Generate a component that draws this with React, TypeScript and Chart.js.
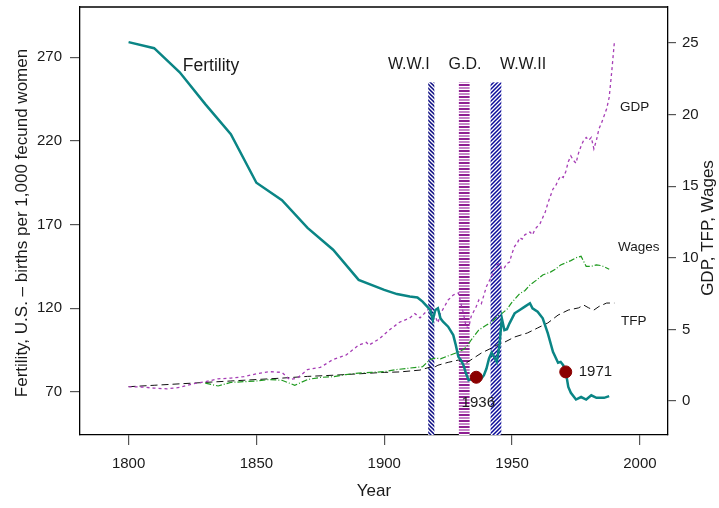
import React, { useEffect, useRef } from "react";
import { Chart, registerables } from "chart.js";

Chart.register(...registerables);

// ---------- data ----------
const fertYears = [1800, 1810, 1820, 1830, 1840, 1850, 1860, 1870, 1880, 1890, 1900, 1905, 1910, 1913, 1915, 1918, 1919, 1920, 1921, 1922, 1923, 1925, 1927, 1928, 1929, 1930, 1931, 1932, 1933, 1934, 1936, 1938, 1939, 1940, 1941, 1942, 1943, 1944, 1945, 1946, 1947, 1948, 1949, 1951, 1953, 1955, 1957, 1958, 1960, 1962, 1964, 1966, 1968, 1969, 1970, 1971, 1972, 1973, 1975, 1977, 1979, 1981, 1983, 1986, 1988];
const fertValues = [279, 275.4, 261, 242, 224, 195, 184.6, 168, 155, 137, 131, 128.5, 127, 126.5, 124, 119, 113, 119, 120, 114, 112, 109, 104, 98, 91, 89, 86, 81, 77, 77.5, 77.8, 78, 80, 84, 90, 93.5, 91, 88, 97, 114, 107, 107.5, 111, 117, 119, 121, 123, 120, 118, 114, 105, 94, 87.5, 88, 86, 82, 73, 69.5, 65.5, 67, 65.5, 68, 66.5, 66.5, 67.5];

const gdpYears = [1800, 1805, 1810, 1815, 1820, 1825, 1830, 1835, 1840, 1845, 1850, 1855, 1860, 1863, 1866, 1870, 1875, 1880, 1885, 1890, 1893, 1894, 1898, 1902, 1906, 1910, 1912, 1914, 1917, 1918, 1920, 1921, 1922, 1925, 1927, 1929, 1930, 1931, 1932, 1933, 1934, 1936, 1937, 1938, 1939, 1940, 1942, 1944, 1945, 1946, 1947, 1948, 1949, 1950, 1951, 1952, 1953, 1954, 1955, 1956, 1957, 1958, 1959, 1960, 1961, 1962, 1963, 1964, 1965, 1966, 1967, 1968, 1969, 1970, 1971, 1972, 1973, 1974, 1975, 1976, 1977, 1978, 1979, 1980, 1981, 1982, 1983, 1984, 1985, 1986, 1987, 1988, 1989, 1990];
const gdpValues = [1.0, 0.98, 0.9, 0.85, 0.95, 1.2, 1.35, 1.55, 1.6, 1.7, 1.9, 2.05, 2.0, 1.5, 1.6, 2.2, 2.35, 2.9, 3.2, 3.9, 4.1, 3.9, 4.33, 4.96, 5.5, 5.8, 6.1, 5.8, 6.35, 6.6, 5.9, 5.45, 6.1, 7.05, 7.4, 7.54, 6.8, 6.1, 5.2, 5.1, 5.9, 6.6, 7.05, 6.8, 7.4, 8.0, 8.7, 9.5, 9.6, 9.2, 9.3, 9.6, 9.7, 10.3, 10.8, 11.0, 11.4, 11.3, 11.6, 11.7, 11.8, 11.6, 12.0, 12.2, 12.4, 12.8, 13.2, 13.8, 14.3, 14.8, 15.0, 15.4, 15.7, 15.6, 16.0, 16.7, 17.1, 16.8, 16.6, 17.3, 17.8, 18.2, 18.4, 18.2, 18.4, 17.6, 18.2, 19.0, 19.4, 19.9, 20.4, 21.2, 23.0, 25.0];

const wageYears = [1830, 1835, 1840, 1845, 1850, 1855, 1860, 1865, 1870, 1875, 1880, 1885, 1890, 1895, 1900, 1905, 1910, 1915, 1918, 1920, 1922, 1925, 1928, 1931, 1932, 1934, 1937, 1940, 1942, 1944, 1946, 1948, 1950, 1953, 1955, 1957, 1960, 1962, 1965, 1967, 1969, 1971, 1973, 1975, 1977, 1979, 1981, 1983, 1985, 1988];
const wageValues = [1.25, 1.05, 1.3, 1.35, 1.4, 1.5, 1.45, 1.1, 1.5, 1.65, 1.7, 1.85, 1.95, 2.0, 2.05, 2.2, 2.3, 2.4, 2.9, 3.0, 2.95, 3.15, 3.35, 3.6, 3.75, 4.26, 4.96, 5.3, 5.5, 5.87, 6.1, 6.4, 6.9, 7.5, 7.7, 8.1, 8.5, 8.8, 9.0, 9.2, 9.5, 9.65, 9.8, 10.0, 10.1, 9.4, 9.4, 9.5, 9.45, 9.2];

const tfpYears = [1800, 1810, 1820, 1830, 1840, 1850, 1860, 1870, 1880, 1890, 1900, 1906, 1914, 1918, 1919, 1921, 1925, 1929, 1932, 1935, 1938, 1942, 1944, 1947, 1951, 1956, 1960, 1964, 1968, 1972, 1976, 1978, 1980, 1982, 1984, 1987, 1990];
const tfpValues = [1.0, 1.1, 1.2, 1.3, 1.4, 1.5, 1.6, 1.72, 1.8, 1.9, 2.0, 2.03, 2.16, 2.37, 2.3, 2.5, 2.7, 2.86, 2.65, 3.0, 3.35, 3.7, 3.9, 4.1, 4.47, 4.75, 5.1, 5.45, 6.0, 6.35, 6.5, 6.7, 6.5, 6.35, 6.6, 6.84, 6.84];

const markYears = [1936, 1971];
const markValues = [78.8, 82];
const markLabels = ["1936", "1971"];

const xTicks = [1800, 1850, 1900, 1950, 2000];
const leftTicks = [70, 120, 170, 220, 270];
const rightTicks = [0, 5, 10, 15, 20, 25];

const bandNames = ["W.W.I", "G.D.", "W.W.II"];
const bandStart = [1917.2, 1929.2, 1941.6];
const bandEnd = [1919.6, 1933.4, 1945.8];
const bandTop = 255;

// ---------- styling ----------
const FONT = '"Liberation Sans", Arial, Helvetica, sans-serif';
const TEXT = "#1a1a1a";

function pts(xs: number[], ys: number[]) {
  return xs.map((x, i) => ({ x, y: ys[i] }));
}

function makePattern(ctx: CanvasRenderingContext2D, kind: number): CanvasPattern | string {
  const c = document.createElement("canvas");
  const g = c.getContext("2d")!;
  if (kind === 1) {
    c.width = 4;
    c.height = 6;
    g.fillStyle = "#ffffff";
    g.fillRect(0, 0, 4, 6);
    g.fillStyle = "#8e1f92";
    g.fillRect(0, 0, 4, 2);
    g.fillStyle = "#c585c8";
    g.fillRect(0, 3, 4, 2);
  } else {
    c.width = 4;
    c.height = 4;
    g.fillStyle = "#ffffff";
    g.fillRect(0, 0, 4, 4);
    g.strokeStyle = kind === 0 ? "#0a0a80" : "#0c0c9a";
    g.lineWidth = 1.5;
    g.beginPath();
    if (kind === 0) {
      g.moveTo(-1, -1); g.lineTo(5, 5);
      g.moveTo(-1, 3); g.lineTo(1, 5);
      g.moveTo(3, -1); g.lineTo(5, 1);
    } else {
      g.moveTo(-1, 5); g.lineTo(5, -1);
      g.moveTo(-1, 1); g.lineTo(1, -1);
      g.moveTo(3, 5); g.lineTo(5, 3);
    }
    g.stroke();
  }
  return ctx.createPattern(c, "repeat") || "#999";
}

const overlayPlugin = {
  id: "overlay",
  beforeDatasetsDraw(chart: any) {
    const { ctx, chartArea, scales } = chart;
    const x = scales.x;
    const yF = scales.yF;
    ctx.save();
    for (let i = 0; i < bandNames.length; i++) {
      const x0 = x.getPixelForValue(bandStart[i]);
      const x1 = x.getPixelForValue(bandEnd[i]);
      const yt = yF.getPixelForValue(bandTop);
      ctx.fillStyle = makePattern(ctx, i);
      ctx.fillRect(x0, yt, x1 - x0, chartArea.bottom - yt);
    }
    ctx.restore();
  },
  afterDraw(chart: any) {
    const { ctx, chartArea, scales } = chart;
    const x = scales.x;
    const yF = scales.yF;
    const yR = scales.yR;
    ctx.save();
    // top border of box
    ctx.strokeStyle = "#000";
    ctx.lineWidth = 1.3;
    ctx.beginPath();
    ctx.moveTo(chartArea.left, chartArea.top);
    ctx.lineTo(chartArea.right, chartArea.top);
    ctx.stroke();

    ctx.fillStyle = TEXT;
    ctx.textBaseline = "middle";

    // series labels
    ctx.font = `17.5px ${FONT}`;
    ctx.textAlign = "left";
    ctx.fillText("Fertility", x.getPixelForValue(1821.2), yF.getPixelForValue(264.6));

    ctx.font = `16px ${FONT}`;
    ctx.textAlign = "center";
    const bandLabelX = [1909.6, 1931.6, 1954.3];
    for (let i = 0; i < bandNames.length; i++) {
      ctx.fillText(bandNames[i], x.getPixelForValue(bandLabelX[i]), yF.getPixelForValue(265.5));
    }

    ctx.font = `13.5px ${FONT}`;
    ctx.textAlign = "left";
    ctx.fillText("GDP", x.getPixelForValue(1992.2), yR.getPixelForValue(20.5));
    ctx.fillText("Wages", x.getPixelForValue(1991.4), yR.getPixelForValue(10.75));
    ctx.fillText("TFP", x.getPixelForValue(1992.6), yR.getPixelForValue(5.6));

    ctx.font = `15px ${FONT}`;
    ctx.textAlign = "center";
    ctx.fillText(markLabels[0], x.getPixelForValue(1936.8), yF.getPixelForValue(63.4));
    ctx.textAlign = "left";
    ctx.fillText(markLabels[1], x.getPixelForValue(1976.1), yF.getPixelForValue(82));

    // axis titles
    ctx.font = `17px ${FONT}`;
    ctx.textAlign = "center";
    ctx.fillText("Year", (chartArea.left + chartArea.right) / 2, 491);

    ctx.save();
    ctx.translate(22, 223);
    ctx.rotate(-Math.PI / 2);
    ctx.font = `17px ${FONT}`;
    ctx.fillText("Fertility, U.S. \u2013 births per 1,000 fecund women", 0, 0);
    ctx.restore();

    ctx.save();
    ctx.translate(708, 228);
    ctx.rotate(-Math.PI / 2);
    ctx.font = `17px ${FONT}`;
    ctx.fillText("GDP, TFP, Wages", 0, 0);
    ctx.restore();

    ctx.restore();
  },
};

export default function App() {
  const ref = useRef<HTMLCanvasElement | null>(null);

  useEffect(() => {
    if (!ref.current) return;
    const tickFont = { family: FONT, size: 15 };
    const plain = (v: any) => String(v);
    const chart = new Chart(ref.current, {
      type: "line",
      data: {
        datasets: [
          {
            type: "scatter",
            label: "Marks",
            data: pts(markYears, markValues),
            yAxisID: "yF",
            backgroundColor: "#8b0000",
            borderColor: "#8b0000",
            pointRadius: 6,
            showLine: false,
            order: 0,
          } as any,
          {
            label: "Fertility",
            data: pts(fertYears, fertValues),
            yAxisID: "yF",
            borderColor: "#0a8585",
            borderWidth: 2.5,
            pointRadius: 0,
            tension: 0,
            order: 1,
          },
          {
            label: "GDP",
            data: pts(gdpYears, gdpValues),
            yAxisID: "yR",
            borderColor: "#a63db5",
            borderWidth: 1.3,
            borderDash: [3, 3],
            pointRadius: 0,
            tension: 0,
            order: 2,
          },
          {
            label: "Wages",
            data: pts(wageYears, wageValues),
            yAxisID: "yR",
            borderColor: "#1f9a1f",
            borderWidth: 1.2,
            borderDash: [6, 2, 1, 2],
            pointRadius: 0,
            tension: 0,
            order: 3,
          },
          {
            label: "TFP",
            data: pts(tfpYears, tfpValues),
            yAxisID: "yR",
            borderColor: "#111111",
            borderWidth: 1,
            borderDash: [7, 4],
            pointRadius: 0,
            tension: 0,
            order: 4,
          },
        ],
      },
      options: {
        animation: false,
        responsive: false,
        devicePixelRatio: 1,
        layout: { padding: { top: 7, left: 0, right: 0, bottom: 0 } },
        plugins: {
          legend: { display: false },
          tooltip: { enabled: false },
        },
        scales: {
          x: {
            type: "linear",
            position: "bottom",
            min: 1781,
            max: 2011,
            afterBuildTicks: (s: any) => {
              s.ticks = xTicks.map((v) => ({ value: v }));
            },
            afterFit: (s: any) => {
              s.height = 73;
              s.paddingLeft = 0;
              s.paddingRight = 0;
            },
            grid: { drawOnChartArea: false, drawTicks: true, tickLength: 10, color: "#555", lineWidth: 1.2 },
            border: { display: true, color: "#000", width: 1.3 },
            ticks: { font: tickFont, color: TEXT, padding: 10, maxRotation: 0, autoSkip: false, callback: plain },
          },
          yF: {
            type: "linear",
            position: "left",
            min: 44.3,
            max: 300,
            afterBuildTicks: (s: any) => {
              s.ticks = leftTicks.map((v) => ({ value: v }));
            },
            afterFit: (s: any) => {
              s.width = 80;
              s.paddingTop = 0;
              s.paddingBottom = 0;
            },
            grid: { drawOnChartArea: false, drawTicks: true, tickLength: 10, color: "#555", lineWidth: 1.2 },
            border: { display: true, color: "#000", width: 1.3 },
            ticks: { font: tickFont, color: TEXT, padding: 8, autoSkip: false, callback: plain },
          },
          yR: {
            type: "linear",
            position: "right",
            min: -2.37,
            max: 27.5,
            afterBuildTicks: (s: any) => {
              s.ticks = rightTicks.map((v) => ({ value: v }));
            },
            afterFit: (s: any) => {
              s.width = 51;
              s.paddingTop = 0;
              s.paddingBottom = 0;
            },
            grid: { drawOnChartArea: false, drawTicks: true, tickLength: 8, color: "#555", lineWidth: 1.2 },
            border: { display: true, color: "#000", width: 1.3 },
            ticks: { font: tickFont, color: TEXT, padding: 6, autoSkip: false, callback: plain },
          },
        },
      },
      plugins: [overlayPlugin],
    } as any);
    return () => chart.destroy();
  }, []);

  return (
    <div style={{ position: "absolute", left: 0, top: 0, width: 719, height: 508, background: "#fff" }}>
      <canvas ref={ref} width={719} height={508} style={{ display: "block", width: 719, height: 508 }} />
    </div>
  );
}
